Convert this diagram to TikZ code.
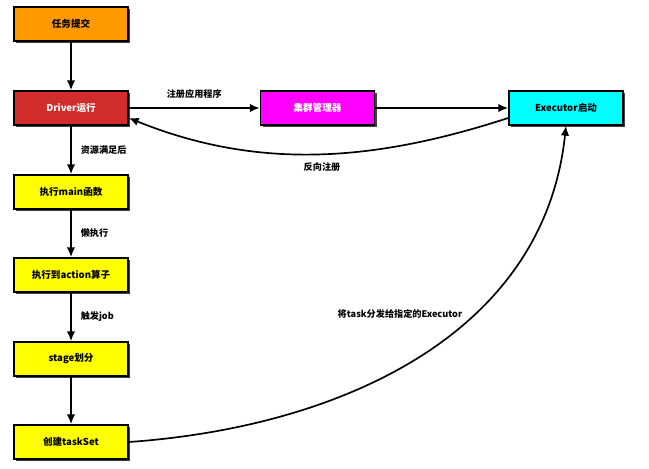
\documentclass[tikz,border=0pt]{standalone}
\usepackage{fontspec}
\setmainfont{Noto Sans CJK SC}
\usetikzlibrary{arrows.meta,shadows}
\definecolor{submitorange}{RGB}{255,153,0}
\definecolor{driverred}{RGB}{210,45,45}
\definecolor{clustermag}{RGB}{255,0,255}
\definecolor{execcyan}{RGB}{0,255,255}
\definecolor{stepyellow}{RGB}{255,255,0}
\tikzset{
  flowbox/.style={draw=black, line width=1.1pt, minimum width=2.85cm, minimum height=0.85cm,
    inner sep=0pt, font=\fontsize{6.8}{8}\selectfont\bfseries,
    drop shadow={shadow xshift=1.5pt, shadow yshift=-1.5pt, fill=black!75, opacity=1}},
  flowline/.style={line width=1.2pt, -{Latex[length=7pt,width=6pt]}},
  steplabel/.style={font=\fontsize{6.5}{8}\selectfont\bfseries}
}
\begin{document}
\begin{tikzpicture}[x=0.025cm, y=0.025cm]
  \useasboundingbox (0,0) rectangle (649,468);
  % left column
  \node (submit) [flowbox, fill=submitorange] at (71,444) {任务提交};
  \node (driver) [flowbox, fill=driverred, text=white] at (71,360) {Driver运行};
  \node (mainfn) [flowbox, fill=stepyellow] at (71,276) {执行main函数};
  \node (action) [flowbox, fill=stepyellow] at (71,193) {执行到action算子};
  \node (stage) [flowbox, fill=stepyellow] at (71,109) {stage划分};
  \node (taskset) [flowbox, fill=stepyellow] at (71,26) {创建taskSet};
  % top row
  \node (cluster) [flowbox, fill=clustermag, text=white] at (317.5,360) {集群管理器};
  \node (executor) [flowbox, fill=execcyan] at (566,360) {Executor启动};

  \draw [flowline] (submit) -- (driver);
  \draw [flowline] (driver) -- (mainfn) node [steplabel, pos=0.5, right=3pt] {资源满足后};
  \draw [flowline] (mainfn) -- (action) node [steplabel, pos=0.5, right=3pt] {懒执行};
  \draw [flowline] (action) -- (stage) node [steplabel, pos=0.5, right=3pt] {触发job};
  \draw [flowline] (stage) -- (taskset);

  \draw [flowline] (driver) -- (cluster) node [steplabel, pos=0.5, above=3pt] {注册应用程序};
  \draw [flowline] (cluster) -- (executor);
  \draw [flowline] (executor.west |- 0,350) to[out=198, in=-22, looseness=0.95] (driver.east |- 0,350);
  \node (backlabel) [steplabel] at (322,301) {反向注册};

  \draw [flowline] (taskset.east) to[out=4, in=-96] (executor.south);
  \node (dispatch) [steplabel] at (400,154) {将task分发给指定的Executor};
\end{tikzpicture}
\end{document}
